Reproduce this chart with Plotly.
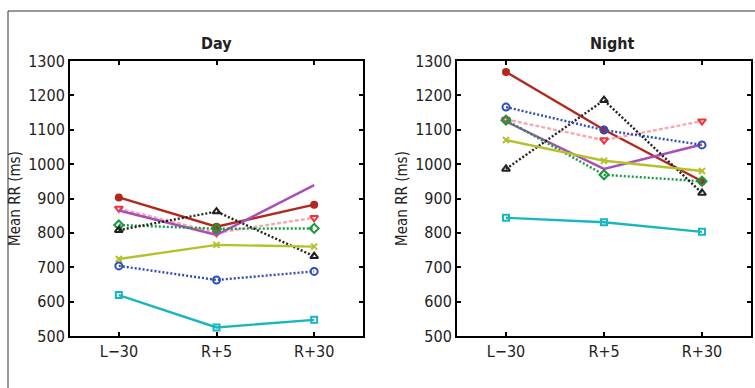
import plotly.graph_objects as go

categories = ["L\u221230", "R+5", "R+30"]

day_darkred = [903, 818, 882]
day_pink = [871, 800, 844]
day_magenta = [865, 794, 939]
day_green = [823, 812, 813]
day_black = [808, 862, 732]
day_yellow = [724, 765, 760]
day_blue = [704, 663, 688]
day_cyan = [619, 525, 547]

night_darkred = [1268, 1100, 950]
night_pink = [1130, 1070, 1125]
night_magenta = [1124, 986, 1057]
night_green = [1128, 969, 950]
night_black = [986, 1186, 916]
night_yellow = [1070, 1010, 980]
night_blue = [1166, 1099, 1056]
night_cyan = [844, 831, 803]

styles = [
    ("darkred", "#b3281c", "solid", "circle", "#b3281c", 6),
    ("pink", "#f5a9b5", "4px,2px", "triangle-down-open", "#f0343f", 7),
    ("magenta", "#aa4db8", "solid", None, "#aa4db8", 0),
    ("green", "#179a3c", "2px,2px", "diamond-open", "#179a3c", 7),
    ("black", "#222222", "2px,2px", "triangle-up-open", "#222222", 7),
    ("yellow", "#b5c12a", "solid", "x-thin-open", "#b5c12a", 6),
    ("blue", "#2f4db8", "2px,2px", "circle-open", "#2f4db8", 7),
    ("cyan", "#1ab6bf", "solid", "square-open", "#1ab6bf", 6),
]

day = [day_darkred, day_pink, day_magenta, day_green, day_black, day_yellow, day_blue, day_cyan]
night = [night_darkred, night_pink, night_magenta, night_green, night_black, night_yellow, night_blue, night_cyan]

fig = go.Figure()
for data, xa, ya in [(day, "x", "y"), (night, "x2", "y2")]:
    for vals, (nm, lc, dash, sym, mc, ms) in zip(data, styles):
        mode = "lines+markers" if sym else "lines"
        marker = dict(symbol=sym, color=mc, size=ms, line=dict(color=mc, width=2)) if sym else None
        fig.add_trace(go.Scatter(
            x=[0, 1, 2], y=vals, mode=mode, name=nm, xaxis=xa, yaxis=ya,
            line=dict(color=lc, width=2.4, dash=dash), marker=marker, showlegend=False,
        ))

font = "DejaVu Sans Condensed, Liberation Sans Narrow, sans-serif"
axis_common = dict(
    showline=True, linecolor="black", linewidth=2, mirror="ticks",
    ticks="inside", ticklen=4, tickwidth=2, tickcolor="black",
    showgrid=False, zeroline=False, automargin=False,
    tickfont=dict(family=font, size=16, color="#222"),
)

ytitle = dict(text="Mean RR (ms)", font=dict(family=font, size=15, color="#222"), standoff=4)

fig.update_layout(
    width=755, height=388,
    margin=dict(l=0, r=0, t=0, b=0, autoexpand=False),
    paper_bgcolor="white", plot_bgcolor="white",
    xaxis=dict(domain=[70/755, 363/755], range=[-0.5, 2.5], tickvals=[0, 1, 2],
               ticktext=categories, anchor="y", **axis_common),
    yaxis=dict(domain=[1-336/388, 1-61/388], range=[500, 1300], dtick=100, anchor="x",
               title=ytitle, **axis_common),
    xaxis2=dict(domain=[457/755, 751/755], range=[-0.5, 2.5], tickvals=[0, 1, 2],
                ticktext=categories, anchor="y2", **axis_common),
    yaxis2=dict(domain=[1-336/388, 1-61/388], range=[500, 1300], dtick=100, anchor="x2",
                title=ytitle, **axis_common),
    annotations=[
        dict(text="<b>Day</b>", x=216/755, y=1-43/388, xref="paper", yref="paper",
             xanchor="center", yanchor="middle",
             showarrow=False, font=dict(family=font, size=16, color="#222")),
        dict(text="<b>Night</b>", x=612/755, y=1-43/388, xref="paper", yref="paper",
             xanchor="center", yanchor="middle",
             showarrow=False, font=dict(family=font, size=16, color="#222")),
    ],
    shapes=[
        dict(type="line", xref="paper", yref="paper", x0=8/755, x1=1, y0=1-11/388, y1=1-11/388,
             line=dict(color="#333", width=1)),
        dict(type="line", xref="paper", yref="paper", x0=8/755, x1=8/755, y0=0, y1=1-11/388,
             line=dict(color="#333", width=1)),
    ],
)

fig.write_html("out.html")
